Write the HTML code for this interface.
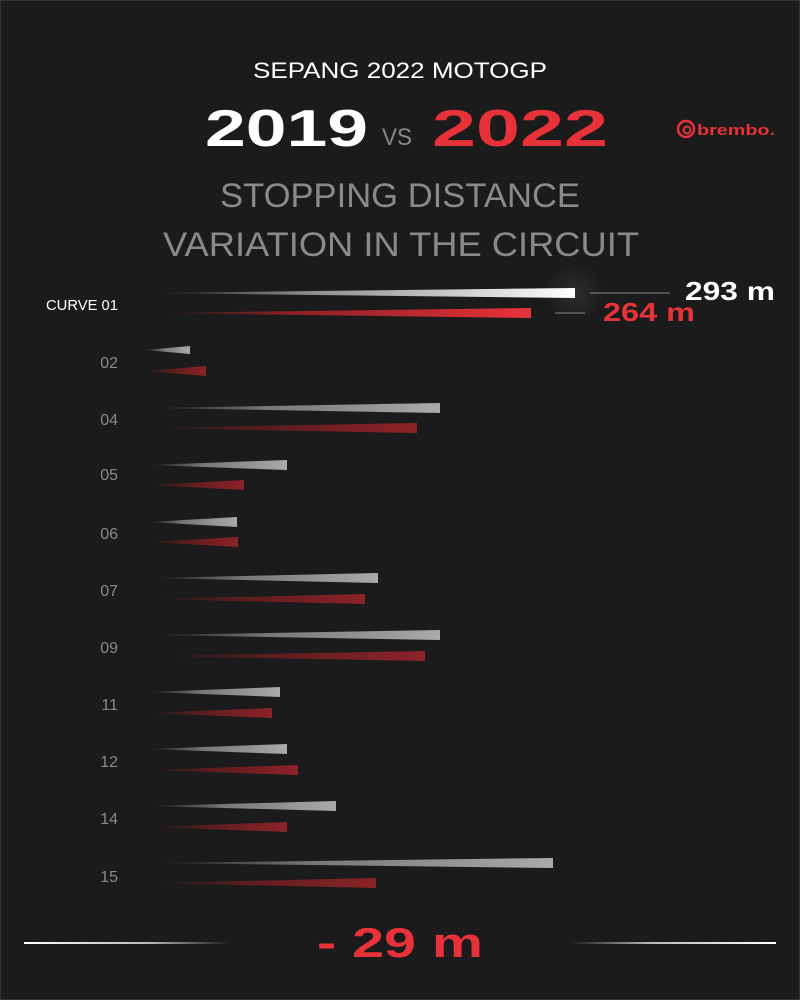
<!DOCTYPE html>
<html><head><meta charset="utf-8"><style>
html,body{margin:0;padding:0;background:#1b1b1b;}
svg{display:block}
text{font-family:"Liberation Sans",sans-serif}
</style></head><body>
<svg width="800" height="1000" viewBox="0 0 800 1000" xmlns="http://www.w3.org/2000/svg">
<defs>
<linearGradient id="gw" x1="0" x2="1"><stop offset="0" stop-color="#1b1b1b"/><stop offset="0.4" stop-color="#777"/><stop offset="1" stop-color="#aaa"/></linearGradient>
<linearGradient id="gr" x1="0" x2="1"><stop offset="0" stop-color="#1b1b1b"/><stop offset="0.4" stop-color="#5a1c1f"/><stop offset="1" stop-color="#8c2328"/></linearGradient>
<linearGradient id="gW" x1="0" x2="1"><stop offset="0" stop-color="#1b1b1b"/><stop offset="0.35" stop-color="#888"/><stop offset="1" stop-color="#fff"/></linearGradient>
<linearGradient id="gR" x1="0" x2="1"><stop offset="0" stop-color="#1b1b1b"/><stop offset="0.35" stop-color="#8a1f25"/><stop offset="1" stop-color="#e8323a"/></linearGradient>
<linearGradient id="ll" x1="0" x2="1"><stop offset="0" stop-color="#fff"/><stop offset="0.6" stop-color="#bbb"/><stop offset="1" stop-color="#1b1b1b"/></linearGradient>
<linearGradient id="lr" x1="0" x2="1"><stop offset="0" stop-color="#1b1b1b"/><stop offset="0.4" stop-color="#bbb"/><stop offset="1" stop-color="#fff"/></linearGradient>
<radialGradient id="glow"><stop offset="0" stop-color="#fff" stop-opacity="0.08"/><stop offset="1" stop-color="#fff" stop-opacity="0"/></radialGradient>
</defs>
<rect x="0.5" y="0.5" width="799" height="999" fill="#1b1b1b" stroke="#333"/>
<text x="253" y="78" fill="#fff" font-size="22" textLength="294" lengthAdjust="spacingAndGlyphs">SEPANG 2022 MOTOGP</text>
<text x="205" y="146" fill="#fff" font-size="52" font-weight="bold" textLength="163" lengthAdjust="spacingAndGlyphs">2019</text>
<text x="382" y="145" fill="#888" font-size="24" textLength="30" lengthAdjust="spacingAndGlyphs">VS</text>
<text x="432" y="146" fill="#e8323a" font-size="52" font-weight="bold" textLength="176" lengthAdjust="spacingAndGlyphs">2022</text>
<circle cx="686" cy="129" r="8" fill="none" stroke="#e8323a" stroke-width="2.5"/>
<circle cx="687" cy="130" r="3.5" fill="none" stroke="#e8323a" stroke-width="2"/>
<text x="697" y="135" fill="#e8323a" font-size="15" font-weight="bold" textLength="78" lengthAdjust="spacingAndGlyphs">brembo.</text>
<text x="220" y="207" fill="#8a8a8a" font-size="34" textLength="360" lengthAdjust="spacingAndGlyphs">STOPPING DISTANCE</text>
<text x="163" y="256" fill="#8a8a8a" font-size="34" textLength="476" lengthAdjust="spacingAndGlyphs">VARIATION IN THE CIRCUIT</text>

<circle cx="575" cy="293" r="30" fill="url(#glow)"/>
<polygon points="150,293 575,288 575,298" fill="url(#gW)"/>
<polygon points="155,313 531,308 531,318" fill="url(#gR)"/>
<line x1="590" y1="293" x2="670" y2="293" stroke="#888" stroke-width="1"/>
<line x1="555" y1="313" x2="585" y2="313" stroke="#888" stroke-width="1"/>
<text x="685" y="300" fill="#fff" font-size="26" font-weight="bold" textLength="90" lengthAdjust="spacingAndGlyphs">293 m</text>
<text x="603" y="321" fill="#e8323a" font-size="26" font-weight="bold" textLength="92" lengthAdjust="spacingAndGlyphs">264 m</text>
<text x="46" y="310" fill="#fff" font-size="15" textLength="72" lengthAdjust="spacingAndGlyphs">CURVE 01</text>

<g font-size="16" fill="#8a8a8a" text-anchor="end">
<text x="118" y="368">02</text><text x="118" y="425">04</text><text x="118" y="480">05</text>
<text x="118" y="539">06</text><text x="118" y="596">07</text><text x="118" y="653">09</text>
<text x="118" y="710">11</text><text x="118" y="767">12</text><text x="118" y="824">14</text>
<text x="118" y="882">15</text></g>

<g>
<polygon points="145,350 190,346 190,354" fill="url(#gw)"/>
<polygon points="146,371 206,366 206,376" fill="url(#gr)"/>
<polygon points="150,408 440,403 440,413" fill="url(#gw)"/>
<polygon points="150,428 417,423 417,433" fill="url(#gr)"/>
<polygon points="148,465 287,460 287,470" fill="url(#gw)"/>
<polygon points="148,485 244,480 244,490" fill="url(#gr)"/>
<polygon points="148,522 237,517 237,527" fill="url(#gw)"/>
<polygon points="148,542 238,537 238,547" fill="url(#gr)"/>
<polygon points="150,578 378,573 378,583" fill="url(#gw)"/>
<polygon points="150,599 365,594 365,604" fill="url(#gr)"/>
<polygon points="150,635 440,630 440,640" fill="url(#gw)"/>
<polygon points="150,656 425,651 425,661" fill="url(#gr)"/>
<polygon points="148,692 280,687 280,697" fill="url(#gw)"/>
<polygon points="148,713 272,708 272,718" fill="url(#gr)"/>
<polygon points="148,749 287,744 287,754" fill="url(#gw)"/>
<polygon points="148,770 298,765 298,775" fill="url(#gr)"/>
<polygon points="150,806 336,801 336,811" fill="url(#gw)"/>
<polygon points="150,827 287,822 287,832" fill="url(#gr)"/>
<polygon points="150,863 553,858 553,868" fill="url(#gw)"/>
<polygon points="150,883 376,878 376,888" fill="url(#gr)"/>
</g>

<rect x="24" y="942" width="206" height="2" fill="url(#ll)"/>
<rect x="570" y="942" width="206" height="2" fill="url(#lr)"/>
<text x="317" y="957" fill="#e8323a" font-size="42" font-weight="bold" textLength="166" lengthAdjust="spacingAndGlyphs">- 29 m</text>
</svg>
</body></html>
